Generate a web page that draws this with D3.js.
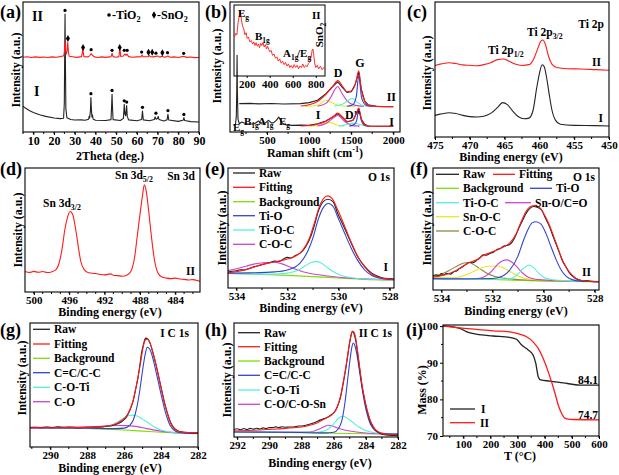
<!DOCTYPE html>
<html><head><meta charset="utf-8">
<script src="https://cdn.jsdelivr.net/npm/d3@7"></script>
<style>body{margin:0;background:#fff}svg{display:block}text,tspan{font-family:"Liberation Serif","Times New Roman",serif !important;font-weight:bold;fill:#000}</style>
</head><body><svg id="c" width="619" height="475" font-family="Liberation Serif" font-weight="bold"></svg>
<script>
// ---------- (a) XRD ----------
const a_ticks=[10,20,30,40,50,60,70,80,90];
const a_I=[[5,19.8],[6,18.6],[8,16.6],[10,15],[13,13.2],[16,12],[20,10.8],[23,10.3],[24.6,10.6],[24.95,22],[25.15,62],[25.3,90.7],[25.45,60],[25.7,18],[26.2,11],[28,9.6],[30,9.2],[33,9.3],[35,9],[36.7,9.8],[36.95,12],[37.2,10.8],[37.55,16],[37.8,26.5],[38.05,17],[38.3,11.5],[38.57,13],[38.85,10],[40,9],[45,8.9],[47.5,9.5],[47.8,20],[48.0,29],[48.2,20],[48.5,9.5],[52,8.8],[53.5,10.5],[53.9,21.3],[54.2,14],[54.6,12.5],[55.05,20.3],[55.35,12],[56,9.3],[60,8.7],[62.3,9.6],[62.7,16.2],[63.1,9.3],[66,8.6],[68.4,9.6],[68.8,11.6],[69.3,9.8],[69.9,10.3],[70.3,12],[70.7,9.6],[73,8.4],[74.6,9.5],[75.0,13.6],[75.4,9.2],[80,8.2],[82.3,9],[82.7,11],[83.1,8.8],[86,8],[90,7.7]];
const a_II=[[5,57.5],[7,57.9],[9,57.3],[11,57.8],[13,57.4],[15,57.7],[17,57.3],[19,57.8],[21,57.5],[23,58],[24.7,58.6],[25.0,62],[25.3,70],[25.6,62],[26.0,60],[26.3,63],[26.6,69],[26.9,62],[27.3,58.3],[29,57.9],[31,57.4],[33.3,58],[33.9,63.5],[34.4,58],[36.5,57.8],[37.3,58.8],[37.9,60.4],[38.5,59],[39.5,57.8],[41,57.3],[43,57.8],[45,57.4],[47.5,58],[48.0,60.4],[48.5,58],[50,57.5],[51.3,58],[51.8,64.3],[52.2,58.2],[53.5,58.5],[54.2,60],[54.8,59],[55.2,60],[56,58],[58,57.5],[60,57.8],[62.0,58],[62.5,59.2],[63,57.9],[65.5,58],[66,58.9],[66.5,57.9],[68,57.8],[70,58.4],[71,57.6],[72,58.2],[73.5,57.5],[75,58.4],[76,57.5],[78,57.8],[80,57.3],[82.5,58.2],[84,57.4],[86,57.7],[88,57.2],[90,57.3]];
const a_dots=[[25.3,93.5],[37.8,29.5],[48,32],[53.9,24],[55.1,23],[62.7,19],[69.2,14.5],[75,16.5],[82.7,13.5],[37.9,63.3],[48,62.8],[53.9,62.8],[55.3,62.8],[62.3,61.5],[69.2,60.6],[74.8,61],[82.6,60.5]];
const a_diam=[[26.7,72],[34,65],[51.7,65],[65.6,61.3],[67.4,61.3],[72.3,61]];

// ---------- (b) Raman ----------
const b_ticks=[500,1000,1500,2000];
const b_I=[[100,5.1],[125,6],[135,12],[140,30],[144,59],[148,30],[155,10],[170,6.4],[200,7.7],[250,6.4],[300,5.9],[350,6.4],[399,8.5],[430,6.4],[450,6.2],[480,7],[519,9],[550,7],[580,7.2],[610,9],[639,11.5],[680,7],[720,5.6],[800,5.1],[900,5.3],[1000,5.1],[1100,6.4],[1200,8.5],[1280,11.5],[1340,14.1],[1400,11],[1450,7.7],[1520,9],[1560,14],[1590,18],[1620,10],[1660,6],[1700,4.6],[1800,4.4],[2000,4.4]];
const b_II=[[170,21.8],[300,22],[400,21.6],[550,21.9],[700,21.5],[900,21.8],[1000,22.6],[1100,24.4],[1200,29.5],[1280,35],[1340,38.5],[1400,34],[1450,30.5],[1500,31],[1550,37],[1590,46],[1620,33],[1660,24],[1700,21],[1800,19.7],[2000,19.5]];
const b_IIfit=[[900,20],[1000,21],[1100,23.5],[1200,29],[1280,35],[1340,39.5],[1400,35],[1450,31],[1500,31.5],[1550,37],[1590,47],[1620,33],[1660,23.5],[1700,20.5],[1800,19.7],[2000,19.5]];
const b_IIyel=[[950,19.7],[1100,20.6],[1200,24.4],[1300,21.6],[1400,20],[1550,19.7]];
const b_IImag=[[1100,19.8],[1200,22],[1260,27],[1300,32],[1340,35],[1380,31],[1450,24],[1550,20.5],[1650,19.7]];
const b_IIcya=[[1300,19.8],[1400,21.5],[1460,24],[1510,26],[1570,23],[1650,20.2],[1750,19.7]];
const b_IIblu=[[1450,19.8],[1520,21],[1560,27],[1590,43],[1625,26],[1680,20.4],[1750,19.7]];
const b_Ifit=[[900,4.6],[1000,5],[1100,6],[1200,8.3],[1280,11.5],[1340,14.5],[1400,11.3],[1450,8],[1520,9],[1560,14],[1590,18.5],[1620,10],[1660,5.6],[1700,4.6],[1800,4.4],[2000,4.4]];
const b_Iyel=[[1000,4.4],[1150,5.6],[1230,7.6],[1320,5.6],[1420,4.5]];
const b_Imag=[[1100,4.6],[1200,6.5],[1260,9.3],[1340,12.7],[1420,8.3],[1500,5.1],[1600,4.5]];
const b_Icya=[[1350,4.5],[1440,5.6],[1520,6.8],[1590,6],[1680,4.6]];
const b_Iblu=[[1480,4.5],[1540,6],[1565,9],[1590,17],[1620,9],[1660,5],[1720,4.4]];
const b_insetTicks=[200,400,600,800];
const b_inset=[[95,55],[105,60],[115,58],[125,75],[135,84],[144,92],[150,85],[158,76],[165,70],[175,66],[185,58],[195,61],[205,53],[215,55],[228,48],[240,50],[252,45],[262,48],[272,43],[282,47],[292,42],[302,45],[312,40],[322,46],[332,43],[342,47],[352,41],[362,44],[372,38],[382,42],[392,37],[402,34],[412,36],[425,29],[437,31],[450,25],[462,27],[475,21],[487,24],[500,18],[512,21],[525,16],[537,19],[550,14],[562,17],[575,12],[587,15],[600,11],[612,16],[625,12],[637,15],[650,10],[662,14],[675,12],[687,17],[700,12],[712,15],[725,13],[737,18],[750,20],[760,28],[768,36],[775,38],[782,30],[790,18],[800,12],[812,15],[825,10],[840,14],[855,9],[870,12],[880,10]];

// ---------- (c) Ti 2p ----------
const c_ticks=[475,470,465,460,455,450];
const c_II=[[475,53],[474,54.2],[473,55],[472,54.4],[471,53.4],[470,53.1],[469,52.8],[468,53.6],[467,55],[466,57.3],[465.2,57.8],[464.5,56.5],[463.5,54],[462.5,53],[461.5,53.6],[460.8,58],[460.2,66],[459.8,71],[459.5,71.8],[459.1,68],[458.7,60],[458.2,54],[457.5,51.5],[456,50.6],[454,50.4],[452,49.9],[450,49.4]];
const c_I=[[475,16],[474,17.2],[473,18],[472,17.4],[471,16],[470,15.1],[469,14.8],[468,15.4],[467,17.5],[466,22],[465.3,25.5],[464.6,24],[463.8,19],[463,15],[462.2,13.5],[461.5,14],[460.9,20],[460.4,36],[460,47],[459.6,53.5],[459.3,52],[459,45],[458.6,32],[458.2,20],[457.7,12.5],[457,9.5],[455,8.6],[452,8.4],[450,8.1]];

// ---------- (d) Sn 3d ----------
const d_ticks=[500,496,492,488,484];
const d_II=[[501,16.5],[500.5,15.8],[500,16.6],[499.5,15.9],[499,16.5],[498.5,15.7],[498,16.2],[497.5,18],[497.2,22],[496.8,35],[496.5,50],[496.2,60],[495.9,64.9],[495.6,62.5],[495.3,52],[495,38],[494.7,25],[494.3,18],[493.8,15.5],[493,14.9],[492.5,14.2],[492,13.8],[491.3,14.6],[491,13.5],[490.5,13.2],[490,12.7],[489.5,13.5],[489,17],[488.6,28],[488.3,45],[488,62],[487.7,78],[487.5,86.5],[487.3,82],[487,65],[486.7,45],[486.4,28],[486,16],[485.5,12],[485,11.2],[484.5,10.8],[484,11.2],[483.5,10.5],[483,10.2],[482.5,9.7],[482,10],[481.2,8.6]];

// ---------- (e) O 1s, I ----------
const e_ticks=[534,532,530,528];
const e_raw=[[534.33,13.3],[534.15,14],[534,14.3],[533.85,15.2],[533.7,15],[533.5,16.2],[533.3,17.8],[533.1,18.8],[532.9,20],[532.7,21],[532.5,22.4],[532.35,22],[532.2,23.6],[532.0,25.5],[531.85,25],[531.7,27],[531.5,29],[531.3,34],[531.07,44],[530.95,52],[530.8,63.5],[530.6,72],[530.42,74],[530.22,72],[530.03,62],[529.77,50],[529.5,37],[529.25,26],[528.98,18],[528.7,12.4],[528.46,9.7],[528.2,8],[527.84,7.7]];
const e_fit=[[534.33,12.6],[534,13.6],[533.6,15.5],[533.2,18.3],[532.9,20.1],[532.6,21.4],[532.3,22.6],[532.0,24.2],[531.7,26.5],[531.4,31.5],[531.15,41],[530.95,54],[530.75,68],[530.55,75.5],[530.42,76.8],[530.25,74.5],[530.03,65],[529.77,52],[529.5,38],[529.25,26.5],[528.98,17.5],[528.7,11.5],[528.46,9],[528.2,7.8],[527.84,7.3]];
const e_bg=[[534.33,12.2],[533,11.3],[532,10.5],[531,9.5],[530,8.3],[529,7.2],[527.84,6.6]];
const e_tio=[[534.33,12.3],[533.5,12.6],[532.5,13.4],[532,15],[531.5,21],[531.2,31],[531.0,42],[530.8,57],[530.6,67],[530.4,70.4],[530.2,67.5],[530.03,59],[529.77,46],[529.5,33],[529.25,23],[528.98,15],[528.7,10.5],[528.46,8.5],[528.1,7.3],[527.84,7]];
const e_tioc=[[534.33,12.2],[532.5,11.6],[532,12.4],[531.6,14.5],[531.3,18.5],[531.05,21.5],[530.88,22],[530.7,21],[530.5,18],[530.2,13.5],[529.9,10.5],[529.5,8.6],[529,7.5],[527.84,6.8]];
const e_coc=[[534.33,14.5],[534,16],[533.6,18.4],[533.2,20.4],[532.85,21.3],[532.55,21.5],[532.25,20.3],[531.95,18],[531.6,15],[531.2,12.5],[530.8,11],[530,9],[529,7.6],[527.84,6.9]];

// ---------- (f) O 1s, II ----------
const f_raw=[[534.33,11.5],[534.2,12.5],[534.1,11.6],[534.0,13.4],[533.9,12.3],[533.8,13.6],[533.65,13],[533.5,15.2],[533.4,15.6],[533.3,17.5],[533.16,19.2],[533.05,20.8],[532.9,22.7],[532.78,22.3],[532.6,24.7],[532.5,26.2],[532.37,28.8],[532.25,28.5],[532.1,30],[531.95,31.2],[531.85,32.9],[531.7,34],[531.59,35.6],[531.45,36.4],[531.33,37.2],[531.15,42],[530.94,52],[530.8,58],[530.68,63],[530.5,67.5],[530.39,68.5],[530.25,67.8],[530.09,65.8],[529.93,59],[529.77,52],[529.63,44],[529.5,37],[529.37,30],[529.25,23.3],[529.1,18],[528.98,13.7],[528.85,11],[528.72,9],[528.6,8.3],[528.46,7.4],[528.3,7.8],[528.15,7.1],[527.85,6.8]];
const f_fit=[[534.33,10.6],[534,11.8],[533.7,13.5],[533.4,16.3],[533.16,19.5],[532.9,22.5],[532.6,25],[532.37,28.2],[532.1,30.5],[531.85,32.6],[531.59,35],[531.33,38.5],[531.1,45],[530.9,55],[530.7,64],[530.5,68.7],[530.35,69.3],[530.15,67.5],[529.95,61],[529.77,53],[529.5,38],[529.25,24],[528.98,14.5],[528.72,9.5],[528.46,7.6],[527.85,6.8]];
const f_bg=[[534.33,10.1],[533,9.3],[532,8.6],[531,7.9],[530,7.3],[529,7],[527.85,6.8]];
const f_tio=[[534.33,9.3],[533,9],[532,9.4],[531.6,11.5],[531.3,17],[531.0,28],[530.8,40],[530.6,50],[530.45,55],[530.29,56],[530.1,54],[529.9,46],[529.7,35],[529.5,24.5],[529.3,16],[529.1,11],[528.85,8.3],[528.5,7.2],[527.85,6.9]];
const f_tioc=[[534.33,9],[531.5,9],[531.2,10],[531.0,13],[530.8,17.5],[530.58,20.5],[530.4,18.5],[530.2,14],[530.0,10.5],[529.7,8.6],[529,7.5],[527.85,7]];
const f_sno=[[534.33,9.2],[532.6,9.4],[532.3,11],[532.05,15],[531.8,21],[531.6,24],[531.44,24.7],[531.25,23],[531.0,18],[530.8,13.5],[530.55,10],[530.2,8.5],[529.5,7.6],[527.85,7]];
const f_snoc=[[534.33,9.6],[533.5,10],[533.1,12],[532.7,15.5],[532.35,18.7],[531.92,19.7],[531.6,18.5],[531.3,15],[531.0,11.5],[530.6,9],[530,8],[529,7.4],[527.85,7]];
const f_coc=[[534.33,11.5],[534,13],[533.7,16],[533.4,19.5],[533.15,22],[532.95,22.5],[532.75,21],[532.5,17.5],[532.2,13.5],[531.9,11],[531.5,9.5],[531,8.6],[530,7.8],[529,7.3],[527.85,6.9]];

// ---------- (g) C 1s, I ----------
const g_ticks=[290,288,286,284,282];
const g_raw=[[291.1,15.7],[290.8,15.9],[290.5,15.5],[290.2,16.1],[289.9,15.6],[289.6,16.2],[289.3,15.8],[289,16],[288.5,15.6],[288,15.8],[287.5,16],[287.1,16.4],[286.77,17],[286.5,18],[286.23,19.5],[286.05,21.5],[285.87,24.3],[285.68,30],[285.5,37.8],[285.37,47],[285.24,56.8],[285.15,66],[285.06,75.7],[284.95,83],[284.84,87.8],[284.72,87],[284.6,83.8],[284.47,77.5],[284.34,70.3],[284.2,61.5],[284.07,52.7],[283.93,43.5],[283.8,35],[283.66,27.5],[283.53,21.6],[283.4,17.5],[283.26,14.9],[283.1,13.2],[282.9,12.2],[282.5,11.6],[282,11.4]];
const g_fit=[[291.1,15.4],[290,15.5],[289,15.6],[288,15.8],[287.2,16.4],[286.77,17.3],[286.4,19],[286.1,21.8],[285.87,25],[285.68,30.5],[285.5,38.5],[285.37,47.5],[285.24,57],[285.1,69],[284.98,80],[284.84,86.5],[284.72,87],[284.6,84],[284.47,78],[284.34,70.5],[284.2,61.5],[284.07,52.5],[283.93,43],[283.8,34.5],[283.66,27],[283.53,21],[283.4,16.8],[283.26,14.3],[283.1,12.8],[282.9,12],[282.5,11.6],[282,11.4]];
const g_bg=[[291.1,15.7],[289,15.2],[287,14.4],[286,13.7],[285,12.8],[284,11.9],[283,11.2],[282,10.8]];
const g_cc=[[291.1,15.4],[288,15.1],[286.5,14.8],[286,15.2],[285.7,17.5],[285.5,22],[285.3,33],[285.15,46],[285.0,62],[284.85,75.5],[284.75,80.5],[284.62,79],[284.47,73],[284.34,65],[284.2,56],[284.07,47],[283.93,38],[283.8,30],[283.66,23],[283.53,18],[283.35,14.2],[283.1,12],[282.7,11.2],[282,10.9]];
const g_coti=[[291.1,15.5],[287.5,15.5],[287,16.3],[286.6,18.3],[286.2,21.5],[285.9,24.5],[285.6,25.7],[285.3,25],[285,22.5],[284.7,19.5],[284.4,16.5],[284.1,14.2],[283.7,12.5],[283.2,11.5],[282,11]];
const g_co=[[291.1,15.8],[289.5,15.9],[288.5,16.1],[287.5,16.5],[286.8,17],[286.3,17.3],[285.87,17.2],[285.4,16.6],[285,15.5],[284.5,14],[284,12.8],[283.3,11.6],[282,11]];

// ---------- (h) C 1s, II ----------
const h_ticks=[292,290,288,286,284,282];
const h_raw=[[292.2,6.5],[292,7.2],[291.8,6.3],[291.6,7.4],[291.4,6.6],[291.2,7.6],[291,6.9],[290.8,7.7],[290.6,7],[290.4,8],[290.2,7.4],[290,8.3],[289.8,8.2],[289.6,8.9],[289.4,8.3],[289.2,9],[289,8.6],[288.76,8.8],[288.5,8.8],[288.2,9.6],[288,9.7],[287.73,10.3],[287.4,11.6],[287.1,13.2],[286.85,14.8],[286.6,16.2],[286.4,17.1],[286.19,19.1],[286.05,20.5],[285.88,23.5],[285.72,28.5],[285.57,35.3],[285.42,46],[285.26,58.8],[285.13,71],[285.01,82.4],[284.92,89],[284.85,92.6],[284.75,91],[284.64,85.3],[284.53,75.5],[284.43,64.7],[284.33,54],[284.23,44],[284.1,34.5],[283.98,26.5],[283.85,19.5],[283.71,13.2],[283.55,9],[283.4,5.9],[283.2,3.8],[282.99,2.4],[282.6,1.6],[282.3,1.4],[282,1.2]];
const h_fit=[[292.2,5.3],[291,5.9],[290,6.7],[289,7.6],[288,8.8],[287.5,10.3],[287,12.6],[286.6,15.6],[286.35,17.6],[286.1,19.7],[285.88,23.3],[285.72,28.5],[285.57,36],[285.42,47],[285.26,60],[285.13,72],[285.01,83],[284.9,90.5],[284.82,93],[284.72,91.5],[284.62,86],[284.53,77],[284.43,66],[284.33,55],[284.23,45],[284.1,35],[283.98,27],[283.85,20],[283.71,14],[283.55,9.5],[283.4,6.5],[283.2,4.4],[282.99,3.2],[282.6,2.4],[282,2]];
const h_bg=[[292.2,4.4],[290,4.1],[288,3.7],[286,3.3],[284,2.8],[282,2.4]];
const h_cc=[[292.2,4.4],[288,3.9],[286.5,3.6],[286,4.2],[285.7,7.5],[285.5,14],[285.3,30],[285.15,48],[285.0,66],[284.88,78],[284.78,82.4],[284.68,80],[284.55,72],[284.43,61],[284.3,49],[284.18,38],[284.05,28],[283.9,19],[283.75,12.5],[283.55,7.5],[283.3,4.5],[283,3.2],[282,2.5]];
const h_coti=[[292.2,4.3],[287,4.2],[286.6,5.2],[286.3,7.5],[286,11.5],[285.75,15.8],[285.46,18.2],[285.2,17],[284.95,14.5],[284.7,11.5],[284.4,8.5],[284.1,6.2],[283.7,4.4],[283.2,3.3],[282,2.6]];
const h_coSn=[[292.2,4.4],[287.6,4.4],[287.2,5.3],[286.9,7],[286.6,9],[286.35,10.3],[286.1,9.8],[285.8,8.2],[285.5,6.8],[285.1,5.5],[284.6,4.4],[284,3.5],[283,2.8],[282,2.5]];

// ---------- (i) TGA ----------
const i_xticks=[100,200,300,400,500,600];
const i_yticks=[70,80,90,100];
const i_I=[[25,100],[62,99.8],[87,99.4],[111,98.5],[148,97.8],[210,97.3],[271,96.9],[296,96.4],[314,94.9],[339,93.5],[357,92.1],[367,89.8],[376,86.2],[385,85.3],[419,85],[468,84.5],[530,83.9],[600,83.9]];
const i_II=[[25,100],[87,99.5],[148,99.1],[210,98.7],[271,98.4],[308,97.8],[333,97.1],[357,95.7],[376,93.9],[394,91.2],[413,87.5],[425,84.8],[438,81.6],[450,78.4],[462,76.2],[472,75],[481,74.7],[505,74.5],[600,74.4]];

const FONT='"Liberation Serif","Times New Roman",serif';
const svg=d3.select("#c");
svg.append("rect").attr("width",619).attr("height",475).attr("fill","#fff");
const COL={blk:"#111",red:"#ff1a1a",grn:"#7fe000",blu:"#3344cc",cya:"#55eedd",mag:"#cc44cc",yel:"#e8e820",olv:"#8a8a40"};

function txt(g,x,y,parts,size,anchor,rot){
  const t=g.append("text").attr("x",x).attr("y",y).attr("font-size",size).attr("font-family",FONT).attr("font-weight","bold").attr("text-anchor",anchor||"start");
  if(rot) t.attr("transform",`rotate(-90,${x},${y})`);
  let off=0;
  (Array.isArray(parts)?parts:[parts]).forEach(p=>{
    if(typeof p==="string"){const s=t.append("tspan").text(p).attr("font-size",size); if(off){s.attr("dy",-off); off=0;}}
    else{const d=p[1]==="sub"?size*0.25:-size*0.4; t.append("tspan").text(p[0]).attr("font-size",size*0.68).attr("dy",d-off); off=d;}
  });
  return t;
}

let clipN=0;
function panel(p){
  const g=svg.append("g");
  const x=d3.scaleLinear().domain(p.xd).range([p.l,p.r]);
  const y=d3.scaleLinear().domain(p.yd||[0,100]).range([p.b,p.t]);
  const id="cl"+(clipN++);
  svg.append("clipPath").attr("id",id).append("rect").attr("x",p.l).attr("y",p.t).attr("width",p.r-p.l).attr("height",p.b-p.t);
  const cg=g.append("g").attr("clip-path",`url(#${id})`);
  (p.series||[]).forEach(s=>{
    cg.append("path").datum(s.d).attr("fill","none").attr("stroke",s.c).attr("stroke-width",s.w||1.1).attr("stroke-linejoin","round")
      .attr("d",d3.line().x(d=>x(d[0])).y(d=>y(d[1])).curve(s.lin?d3.curveLinear:d3.curveMonotoneX));
  });
  g.append("rect").attr("x",p.l).attr("y",p.t).attr("width",p.r-p.l).attr("height",p.b-p.t).attr("fill","none").attr("stroke","#000").attr("stroke-width",1.1);
  const fs=p.fs||11;
  const ax=g.append("g").attr("transform",`translate(0,${p.b})`).call(d3.axisBottom(x).tickValues(p.xt).tickSize(3).tickPadding(1.5).tickFormat(d3.format("d")));
  ax.select(".domain").remove();
  ax.attr("font-family",FONT).attr("font-size",fs);
  ax.selectAll("text").attr("font-size",fs).attr("font-family",FONT).attr("font-weight","bold").attr("fill","#000");
  ax.selectAll("line").attr("stroke","#000");
  if(p.xm){ g.append("g").selectAll("line").data(p.xm).join("line").attr("x1",d=>x(d)).attr("x2",d=>x(d)).attr("y1",p.b).attr("y2",p.b+2).attr("stroke","#000");}
  if(p.yt){
    const ay=g.append("g").attr("transform",`translate(${p.l},0)`).call(d3.axisLeft(y).tickValues(p.yt).tickSize(3).tickPadding(2).tickFormat(d3.format("d")));
    ay.select(".domain").remove();
    ay.attr("font-family",FONT).attr("font-size",fs);
    ay.selectAll("text").attr("font-size",fs).attr("font-family",FONT).attr("font-weight","bold").attr("fill","#000");
    ay.selectAll("line").attr("stroke","#000");
    if(p.ym){ g.append("g").selectAll("line").data(p.ym).join("line").attr("y1",d=>y(d)).attr("y2",d=>y(d)).attr("x1",p.l).attr("x2",p.l-2).attr("stroke","#000");}
  }
  txt(g,p.xtX,p.xtY,p.xtitle,p.tfs||12,"middle");
  txt(g,p.ytX,p.ytY,p.ytitle||"Intensity (a.u.)",p.tfs||12,"middle",true);
  txt(g,p.lx,p.ly,p.letter,18,"start");
  return {g,x,y};
}
function legend(g,items,fs){
  items.forEach(it=>{
    g.append("line").attr("x1",it[0]).attr("x2",it[1]).attr("y1",it[2]).attr("y2",it[2]).attr("stroke",it[3]).attr("stroke-width",1.3);
    txt(g,it[1]+4,it[2]+4,it[4],fs||11.5);
  });
}

// (a)
{
 const P=panel({l:23,r:199,t:2,b:132,xd:[5,90],xt:a_ticks,xm:d3.range(5,91,5),xtitle:"2Theta (deg.)",xtX:110,xtY:160,ytX:20,ytY:70,letter:"(a)",lx:0,ly:18,fs:12,
  series:[{d:a_I,c:"#222",lin:true},{d:a_II,c:COL.red,lin:true}]});
 P.g.selectAll(".dot").data(a_dots).join("circle").attr("cx",d=>P.x(d[0])).attr("cy",d=>P.y(d[1])).attr("r",1.6).attr("fill","#000");
 P.g.selectAll(".dia").data(a_diam).join("path").attr("d",d3.symbol(d3.symbolDiamond,14)).attr("transform",d=>`translate(${P.x(d[0])},${P.y(d[1])})`).attr("fill","#000");
 txt(P.g,32,21,"II",14); txt(P.g,34,96,"I",14);
 P.g.append("circle").attr("cx",109).attr("cy",15).attr("r",1.8).attr("fill","#000");
 txt(P.g,112,19,["-TiO",["2","sub"]],12);
 P.g.append("path").attr("d",d3.symbol(d3.symbolDiamond,16)).attr("transform","translate(154,15)").attr("fill","#000");
 txt(P.g,157,19,["-SnO",["2","sub"]],12);
}
// (b)
{
 const P=panel({l:230,r:400,t:2,b:132,xd:[60,2080],xt:b_ticks,xm:d3.range(250,2001,250),xtitle:["Raman shift (cm",["-1","sup"],")"],xtX:315,xtY:157,ytX:221,ytY:66,letter:"(b)",lx:205,ly:18,
  series:[{d:b_I,c:"#222",lin:true},{d:b_Iyel,c:COL.yel},{d:b_Imag,c:COL.mag},{d:b_Icya,c:COL.cya},{d:b_Iblu,c:COL.blu},{d:b_Ifit,c:COL.red},
          {d:b_II,c:"#222",lin:true},{d:b_IIyel,c:COL.yel},{d:b_IImag,c:COL.mag},{d:b_IIcya,c:COL.cya},{d:b_IIblu,c:COL.blu},{d:b_IIfit,c:COL.red}]});
 txt(P.g,338,77,"D",12,"middle"); txt(P.g,360,67,"G",12,"middle");
 txt(P.g,396,101,"II",12,"end"); txt(P.g,318,119,"I",12,"middle"); txt(P.g,345,119,"D''",12,"start"); txt(P.g,394,126,"I",12,"end");
 txt(P.g,244,125,["B",["1g","sub"]],11); txt(P.g,258,125,["A",["1g","sub"]],11); txt(P.g,279,125,["E",["g","sub"]],11);
 txt(P.g,233,131,["E",["g","sub"]],11);
 // inset
 const ix=d3.scaleLinear().domain([90,880]).range([234,325]);
 const iy=d3.scaleLinear().domain([0,100]).range([76,5]);
 P.g.append("rect").attr("x",234).attr("y",5).attr("width",91).attr("height",71).attr("fill","none").attr("stroke","#000").attr("stroke-width",1);
 P.g.append("path").datum(b_inset).attr("fill","none").attr("stroke",COL.red).attr("stroke-width",0.9).attr("d",d3.line().x(d=>ix(d[0])).y(d=>iy(d[1])));
 const ia=P.g.append("g").attr("transform","translate(0,76)").call(d3.axisBottom(ix).tickValues(b_insetTicks).tickSize(2).tickPadding(2).tickFormat(d3.format("d")));
 ia.select(".domain").remove(); ia.attr("font-family",FONT).attr("font-size",11);
 ia.selectAll("text").attr("font-size",11).attr("font-family",FONT).attr("font-weight","bold");
 txt(P.g,238,17,["E",["g","sub"]],11); txt(P.g,255,40,["B",["1g","sub"]],11); txt(P.g,283,57,["A",["1g","sub"]],11); txt(P.g,297,57,["/E",["g","sub"]],11);
 txt(P.g,312,19,"II",11); txt(P.g,323,35,["SnO",["2","sub"]],11,"middle",true);
}
// (c)
{
 const P=panel({l:435,r:609,t:2,b:137,xd:[475,450],xt:c_ticks,xm:d3.range(450,476,2.5),xtitle:"Binding energy (eV)",xtX:511,xtY:161,ytX:431,ytY:73,letter:"(c)",lx:407,ly:18,
  series:[{d:c_II,c:COL.red},{d:c_I,c:"#222"}]});
 txt(P.g,604,28,"Ti 2p",11.5,"end"); txt(P.g,527,36,["Ti 2p",["3/2","sub"]],11.5); txt(P.g,488,54,["Ti 2p",["1/2","sub"]],11.5);
 txt(P.g,601,66,"II",11.5,"end"); txt(P.g,603,122,"I",11.5,"end");
}
// (d)
{
 const P=panel({l:25,r:200,t:168,b:292,xd:[501,481.2],xt:d_ticks,xm:d3.range(482,501,1),xtitle:"Binding energy (eV)",xtX:110,xtY:316,ytX:22,ytY:230,letter:"(d)",lx:0,ly:175,
  series:[{d:d_II,c:COL.red}]});
 txt(P.g,43,207,["Sn 3d",["3/2","sub"]],11.5); txt(P.g,115,179,["Sn 3d",["5/2","sub"]],11.5); txt(P.g,195,180,"Sn 3d",11.5,"end"); txt(P.g,195,275,"II",11.5,"end");
}
// (e)
{
 const P=panel({l:228,r:394,t:168,b:288,xd:[534.33,527.83],xt:e_ticks,xm:d3.range(528,535,1),xtitle:"Binding energy (eV)",xtX:311,xtY:312,ytX:226,ytY:228,letter:"(e)",lx:205,ly:175,
  series:[{d:e_bg,c:COL.grn},{d:e_coc,c:COL.mag},{d:e_tioc,c:COL.cya},{d:e_tio,c:COL.blu},{d:e_raw,c:"#222"},{d:e_fit,c:COL.red}]});
 legend(P.g,[[233,255,173,"#222","Raw"],[233,255,187.3,COL.red,"Fitting"],[233,255,201.7,COL.grn,"Background"],[233,255,215.7,COL.blu,"Ti-O"],[233,255,230,COL.cya,"Ti-O-C"],[233,255,244.3,COL.mag,"C-O-C"]]);
 txt(P.g,390,181,"O 1s",11.5,"end"); txt(P.g,388,271,"I",11.5,"end");
}
// (f)
{
 const P=panel({l:433,r:599,t:168,b:290,xd:[534.33,527.83],xt:e_ticks,xm:d3.range(528,535,1),xtitle:"Binding energy (eV)",xtX:516,xtY:315,ytX:431,ytY:228,letter:"(f)",lx:410,ly:175,
  series:[{d:f_bg,c:COL.grn},{d:f_coc,c:COL.olv},{d:f_snoc,c:COL.yel},{d:f_sno,c:COL.mag},{d:f_tioc,c:COL.cya},{d:f_tio,c:COL.blu},{d:f_raw,c:"#222"},{d:f_fit,c:COL.red}]});
 legend(P.g,[[436,459,174.3,"#222","Raw"],[493,515,174.3,COL.red,"Fitting"],[436,459,188.3,COL.grn,"Background"],[530,552,188.3,COL.blu,"Ti-O"],[436,459,202.7,COL.cya,"Ti-O-C"],[505,531,202.7,COL.mag,"Sn-O/C=O"],[436,459,216.7,COL.yel,"Sn-O-C"],[436,459,231,COL.olv,"C-O-C"]]);
 txt(P.g,595,181,"O 1s",11.5,"end"); txt(P.g,591,276,"II",11.5,"end");
}
// (g)
{
 const P=panel({l:30,r:198,t:323,b:447,xd:[291.1,282],xt:g_ticks,xm:d3.range(282,292,1),xtitle:"Binding energy (eV)",xtX:110,xtY:472,ytX:26,ytY:378,letter:"(g)",lx:0,ly:336,
  series:[{d:g_bg,c:COL.grn},{d:g_co,c:COL.mag},{d:g_coti,c:COL.cya},{d:g_cc,c:COL.blu},{d:g_raw,c:"#222"},{d:g_fit,c:COL.red}]});
 legend(P.g,[[33,50,329.3,"#222","Raw"],[33,50,344,COL.red,"Fitting"],[33,50,358.3,COL.grn,"Background"],[33,50,372.7,COL.blu,"C=C/C-C"],[33,50,387.3,COL.cya,"C-O-Ti"],[33,50,401.7,COL.mag,"C-O"]]);
 txt(P.g,189,337,"I C 1s",11.5,"end");
}
// (h)
{
 const P=panel({l:234,r:398,t:323,b:437,xd:[292.2,282],xt:h_ticks,xm:d3.range(282,293,1),xtitle:"Binding energy (eV)",xtX:320,xtY:467,ytX:231,ytY:380,letter:"(h)",lx:205,ly:336,
  series:[{d:h_bg,c:COL.grn},{d:h_coSn,c:COL.mag},{d:h_coti,c:COL.cya},{d:h_cc,c:COL.blu},{d:h_raw,c:"#222"},{d:h_fit,c:COL.red}]});
 legend(P.g,[[238,260,332.7,"#222","Raw"],[238,260,346.7,COL.red,"Fitting"],[238,260,361,COL.grn,"Background"],[238,260,375.3,COL.blu,"C=C/C-C"],[238,260,390,COL.cya,"C-O-Ti"],[238,260,404.3,COL.mag,"C-O/C-O-Sn"]]);
 txt(P.g,392,337,"II C 1s",11.5,"end");
}
// (i)
{
 const P=panel({l:443,r:599,t:325,b:436,xd:[25,600],yd:[70,100.3],xt:i_xticks,xm:d3.range(50,601,50),yt:i_yticks,ym:[75,85,95],xtitle:"T (\u00b0C)",xtX:520,xtY:460,ytitle:"Mass (%)",ytX:426,ytY:390,letter:"(i)",lx:406,ly:336,
  series:[{d:i_I,c:"#222",w:1.3},{d:i_II,c:COL.red,w:1.3}]});
 txt(P.g,598,384,"84.1",11.5,"end"); txt(P.g,598,419,"74.7",11.5,"end");
 P.g.append("line").attr("x1",450).attr("x2",475).attr("y1",409).attr("y2",409).attr("stroke","#222").attr("stroke-width",1.3);
 txt(P.g,481,413,"I",11.5);
 P.g.append("line").attr("x1",450).attr("x2",475).attr("y1",422.7).attr("y2",422.7).attr("stroke",COL.red).attr("stroke-width",1.3);
 txt(P.g,480,427,"II",11.5);
}
</script></body></html>
